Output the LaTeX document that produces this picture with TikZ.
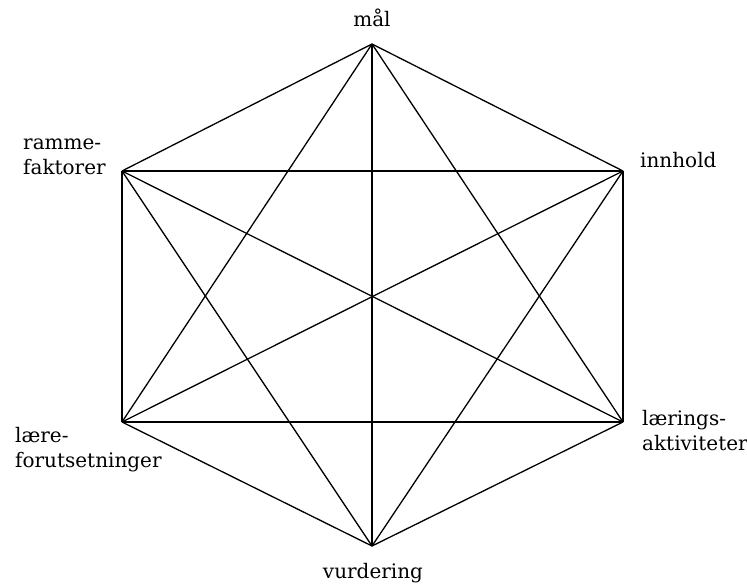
\documentclass[tikz,border=0pt]{standalone}
\usepackage{fontspec}
\setmainfont{DejaVu Serif}
\usepackage{tikz}
\tikzset{
  etikett/.style={inner sep=0pt, align=left, font=\fontsize{20}{25}\selectfont},
  linje/.style={line width=1.3pt, black, line join=round},
}

\begin{document}
\begin{tikzpicture}[x=1pt, y=-1pt]
  \useasboundingbox (0,0) rectangle (747,586);
  % hjørner i sekskanten
  \coordinate (mal) at (372,44);
  \coordinate (innhold) at (623,171);
  \coordinate (laering) at (623,422);
  \coordinate (vurd) at (372,546);
  \coordinate (laere) at (122,422);
  \coordinate (ramme) at (122,171);
  \foreach \a/\b in {mal/innhold, mal/laering, mal/vurd, mal/laere, mal/ramme,
      innhold/laering, innhold/vurd, innhold/laere, innhold/ramme,
      laering/vurd, laering/laere, laering/ramme,
      vurd/laere, vurd/ramme, laere/ramme}
    \draw[linje] (\a) -- (\b);
  % etiketter
  \node[etikett, anchor=base] (malT) at (372,27) {mål};
  \node[etikett, anchor=base west] (innholdT) at (640,167) {innhold};
  \node[etikett, anchor=west] (laeringT) at (642,431) {lærings-\\aktiviteter};
  \node[etikett, anchor=base] (vurdT) at (373,578) {vurdering};
  \node[etikett, anchor=west] (laereT) at (15,449.5) {lære-\\forutsetninger};
  \node[etikett, anchor=west] (rammeT) at (23,157) {ramme-\\faktorer};
\end{tikzpicture}
\end{document}
